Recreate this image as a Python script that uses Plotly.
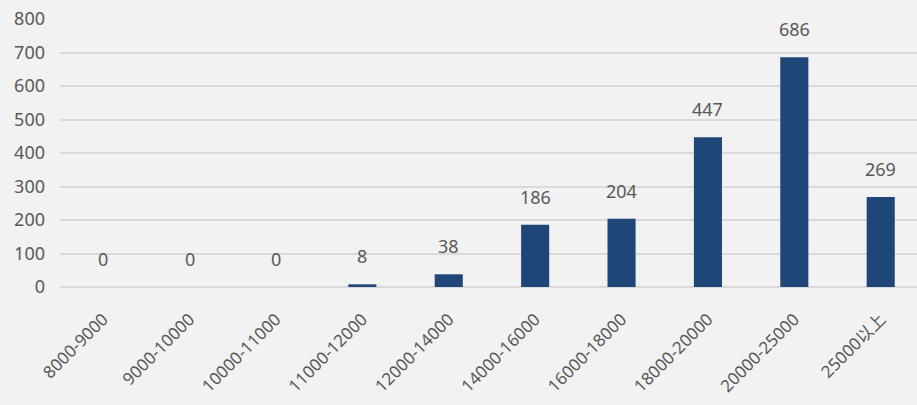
import plotly.graph_objects as go

categories = ["8000-9000", "9000-10000", "10000-11000", "11000-12000", "12000-14000",
              "14000-16000", "16000-18000", "18000-20000", "20000-25000", "25000以上"]
values = [0, 0, 0, 8, 38, 186, 204, 447, 686, 269]
y_ticks = [0, 100, 200, 300, 400, 500, 600, 700, 800]

FONT = "Noto Sans, Noto Sans CJK SC, sans-serif"
TXT = "#595959"

fig = go.Figure()
fig.add_trace(go.Bar(
    x=list(range(len(categories))), y=values,
    marker=dict(color="#1f4679", line=dict(width=0)),
    width=0.325,
))

for i, v in enumerate(values):
    fig.add_annotation(x=i, y=v, text=str(v), showarrow=False, yshift=28,
                       font=dict(family=FONT, size=18, color=TXT))

fig.update_layout(
    width=917, height=405,
    margin=dict(l=60, r=0, t=19, b=118),
    paper_bgcolor="#f2f2f2", plot_bgcolor="#f2f2f2",
    showlegend=False,
    xaxis=dict(
        range=[-0.5, 9.42],
        tickmode="array", tickvals=list(range(len(categories))), ticktext=categories,
        tickangle=-45, showgrid=False, zeroline=False, showline=False,
        tickfont=dict(family=FONT, size=17, color=TXT),
        ticks="", ticklen=0, ticklabelstandoff=18,
    ),
    yaxis=dict(
        range=[0, 800], tickvals=y_ticks,
        showgrid=True, gridcolor="#d9d9d9", gridwidth=1.5,
        zeroline=True, zerolinecolor="#d9d9d9", zerolinewidth=1.5,
        showline=False, ticks="", ticklen=0, ticklabelstandoff=14,
        tickfont=dict(family=FONT, size=18, color=TXT),
    ),
)

fig.write_html("out.html")
